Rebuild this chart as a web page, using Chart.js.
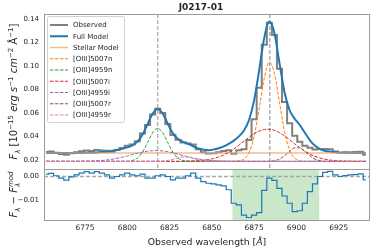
<!DOCTYPE html>
<html>
<head>
<meta charset="utf-8">
<script src="https://cdn.jsdelivr.net/npm/chart.js@4.4.1/dist/chart.umd.min.js"></script>
<style>
  html, body { margin: 0; padding: 0; background: #fff; }
  #wrap { position: relative; width: 374px; height: 251px; }
  #wrap canvas { position: absolute; left: 0; top: 0; }
</style>
</head>
<body>
<div id="wrap">
  <canvas id="top-panel" width="374" height="251"></canvas>
  <canvas id="bottom-panel" width="374" height="251"></canvas>
</div>
<script>
// wavelength grid of the spectrum (Angstrom)
const wave = [6752, 6755, 6758, 6761, 6764, 6767, 6770, 6773, 6776, 6779, 6782, 6785, 6788, 6791, 6794, 6797,
  6800, 6803, 6806, 6809, 6812, 6815, 6818, 6821, 6824, 6827, 6830, 6833, 6836, 6839, 6842, 6845,
  6848, 6851, 6854, 6857, 6860, 6863, 6866, 6869, 6872, 6875, 6878, 6881, 6884, 6887, 6890, 6893,
  6896, 6899, 6902, 6905, 6908, 6911, 6914, 6917, 6920, 6923, 6926, 6929, 6932, 6935, 6938, 6941];

const observed = [0.0267, 0.0270, 0.0260, 0.0250, 0.0242, 0.0255, 0.0264, 0.0272, 0.0279, 0.0274, 0.0282, 0.0279, 0.0276, 0.0268, 0.0283, 0.0300,
  0.0319, 0.0330, 0.0357, 0.0424, 0.0496, 0.0585, 0.0635, 0.0599, 0.0505, 0.0411, 0.0370, 0.0346, 0.0339, 0.0329, 0.0289, 0.0264,
  0.0253, 0.0256, 0.0263, 0.0275, 0.0281, 0.0252, 0.0281, 0.0289, 0.0369, 0.0546, 0.0815, 0.1181, 0.1369, 0.1264, 0.0975, 0.0693,
  0.0511, 0.0404, 0.0354, 0.0319, 0.0303, 0.0288, 0.0291, 0.0292, 0.0289, 0.0270, 0.0260, 0.0263, 0.0264, 0.0265, 0.0268, 0.0243];

const fullModel = [0.0257, 0.0257, 0.0257, 0.0257, 0.0257, 0.0257, 0.0257, 0.0258, 0.0259, 0.0260, 0.0262, 0.0265, 0.0269, 0.0275, 0.0283, 0.0293,
  0.0305, 0.0323, 0.0354, 0.0414, 0.0503, 0.0592, 0.0632, 0.0592, 0.0505, 0.0425, 0.0377, 0.0353, 0.0336, 0.0315, 0.0296, 0.0285,
  0.0281, 0.0287, 0.0298, 0.0314, 0.0336, 0.0363, 0.0399, 0.0449, 0.0539, 0.0706, 0.0965, 0.1239, 0.1376, 0.1280, 0.1024, 0.0774,
  0.0622, 0.0550, 0.0496, 0.0430, 0.0366, 0.0319, 0.0291, 0.0275, 0.0268, 0.0263, 0.0260, 0.0259, 0.0257, 0.0257, 0.0257, 0.0257];

const residual = [0.0010, 0.0013, 0.0003, -0.0007, -0.0015, -0.0002, 0.0007, 0.0014, 0.0020, 0.0014, 0.0020, 0.0014, 0.0007, -0.0007, 0.0000, 0.0007,
  0.0014, 0.0007, 0.0003, 0.0010, -0.0007, -0.0007, 0.0003, 0.0007, 0.0000, -0.0014, -0.0007, -0.0007, 0.0003, 0.0014, -0.0007, -0.0021,
  -0.0028, -0.0031, -0.0035, -0.0039, -0.0055, -0.0111, -0.0118, -0.0160, -0.0170, -0.0160, -0.0150, -0.0058, -0.0007, -0.0016, -0.0049, -0.0081,
  -0.0111, -0.0146, -0.0142, -0.0111, -0.0063, -0.0031, 0.0000, 0.0017, 0.0021, 0.0007, 0.0000, 0.0004, 0.0007, 0.0008, 0.0011, -0.0014];

// model components as [wavelength, flux] pairs
const stellar = [[6752, 0.0257], [6941, 0.0257]];
const oiii5007n = [[6752, 0.0186], [6863, 0.0186], [6866, 0.0190], [6869, 0.0206], [6872, 0.0262], [6875, 0.0399], [6878, 0.0635],
  [6881, 0.0896], [6884, 0.1030], [6887, 0.0938], [6890, 0.0689], [6893, 0.0439], [6896, 0.0281], [6899, 0.0213], [6902, 0.0192],
  [6905, 0.0187], [6941, 0.0186]];
const oiii4959n = [[6752, 0.0186], [6800, 0.0186], [6803, 0.0194], [6806, 0.0214], [6809, 0.0264], [6812, 0.0345], [6815, 0.0430],
  [6818, 0.0468], [6821, 0.0430], [6824, 0.0345], [6827, 0.0264], [6830, 0.0214], [6833, 0.0194], [6836, 0.0188], [6941, 0.0186]];
const oiii5007i = [[6752, 0.0186], [6833, 0.0186], [6836, 0.0187], [6839, 0.0189], [6842, 0.0191], [6845, 0.0195], [6848, 0.0201],
  [6851, 0.0210], [6854, 0.0223], [6857, 0.0241], [6860, 0.0264], [6863, 0.0292], [6866, 0.0324], [6869, 0.0358], [6872, 0.0392],
  [6875, 0.0422], [6878, 0.0445], [6881, 0.0458], [6884, 0.0460], [6887, 0.0451], [6890, 0.0431], [6893, 0.0403], [6896, 0.0370],
  [6899, 0.0336], [6902, 0.0303], [6905, 0.0273], [6908, 0.0248], [6911, 0.0229], [6914, 0.0214], [6917, 0.0204], [6920, 0.0197],
  [6923, 0.0192], [6926, 0.0189], [6929, 0.0188], [6935, 0.0186], [6941, 0.0186]];
const oiii4959i = [[6752, 0.0186], [6770, 0.0186], [6776, 0.0188], [6779, 0.0189], [6782, 0.0191], [6785, 0.0194], [6788, 0.0198],
  [6791, 0.0204], [6794, 0.0212], [6797, 0.0222], [6800, 0.0232], [6803, 0.0244], [6806, 0.0255], [6809, 0.0265], [6812, 0.0273],
  [6815, 0.0277], [6818, 0.0278], [6821, 0.0275], [6824, 0.0268], [6827, 0.0259], [6830, 0.0248], [6833, 0.0236], [6836, 0.0225],
  [6839, 0.0215], [6842, 0.0207], [6845, 0.0200], [6848, 0.0195], [6851, 0.0192], [6854, 0.0190], [6857, 0.0188], [6863, 0.0186],
  [6941, 0.0186]];
const oiii5007r = [[6752, 0.0186], [6884, 0.0186], [6887, 0.0192], [6890, 0.0205], [6893, 0.0233], [6896, 0.0272], [6899, 0.0302],
  [6902, 0.0302], [6905, 0.0272], [6908, 0.0233], [6911, 0.0205], [6914, 0.0192], [6917, 0.0186], [6941, 0.0186]];
const oiii4959r = [[6752, 0.0186], [6818, 0.0186], [6821, 0.0188], [6824, 0.0194], [6827, 0.0203], [6830, 0.0216], [6833, 0.0224],
  [6836, 0.0223], [6839, 0.0212], [6842, 0.0200], [6845, 0.0191], [6848, 0.0187], [6851, 0.0186], [6941, 0.0186]];

const lineCenters = [6818, 6884.3];     // dashed markers of [OIII]4959 and [OIII]5007
const shadedRange = [6862.2, 6913.5];   // green band in the residual panel
const xRange = [6750.8, 6943.5];
const topRange = [0.0121, 0.1443];
const bottomRange = [-0.01804, 0.0031];
const xTicks = [6775, 6800, 6825, 6850, 6875, 6900, 6925];
const topTicks = [0.02, 0.04, 0.06, 0.08, 0.10, 0.12, 0.14];
const bottomTicks = [-0.01, 0.00];

const FAMILY = "'DejaVu Sans'";
const TEXT = '#262626';

function onGrid(vals) { return wave.map((w, i) => ({ x: w, y: vals[i] })); }
function pts(pairs) { return pairs.map(p => ({ x: p[0], y: p[1] })); }
function fmtTick(v) { return v.toFixed(2).replace('-', '\u2212'); }

function comp(label, pairs, color, order) {
  return {
    label: label, data: pts(pairs), borderColor: color, borderWidth: 1,
    borderDash: [3.5, 1.5], cubicInterpolationMode: 'monotone', order: order
  };
}

// draws runs of text with different size/style along one baseline
function drawRich(ctx, parts, cx, cy, rotate) {
  ctx.save();
  ctx.translate(cx, cy);
  if (rotate) ctx.rotate(-Math.PI / 2);
  ctx.fillStyle = TEXT;
  ctx.textBaseline = 'alphabetic';
  ctx.textAlign = 'left';
  let total = 0;
  parts.forEach(p => {
    ctx.font = (p.it ? 'italic ' : '') + p.s + 'px ' + FAMILY;
    p.w = ctx.measureText(p.t).width;
    if (!p.stack) total += p.w;
  });
  let x = -total / 2;
  parts.forEach(p => {
    ctx.font = (p.it ? 'italic ' : '') + p.s + 'px ' + FAMILY;
    ctx.fillText(p.t, x, p.dy || 0);
    if (!p.stack) x += p.w;
  });
  ctx.restore();
}

function drawFrame(chart) {
  const { ctx, chartArea: a } = chart;
  ctx.save();
  ctx.strokeStyle = '#9a9a9a';
  ctx.lineWidth = 1;
  ctx.strokeRect(a.left + 0.5, a.top + 0.5, a.right - a.left - 1, a.bottom - a.top);
  ctx.restore();
}

const topPlugin = {
  id: 'topPanel',
  beforeDatasetsDraw(chart) {
    const { ctx, chartArea: a, scales: { x } } = chart;
    ctx.save();
    lineCenters.forEach((w, i) => {
      const px = x.getPixelForValue(w);
      ctx.strokeStyle = i === 0 ? '#b5b5b5' : '#8a8a8a';
      ctx.lineWidth = i === 0 ? 1.5 : 1;
      ctx.setLineDash([4, 2]);
      ctx.beginPath();
      ctx.moveTo(px, a.top);
      ctx.lineTo(px, a.bottom);
      ctx.stroke();
    });
    ctx.restore();
  },
  afterDraw(chart) {
    drawFrame(chart);
    const ctx = chart.ctx;
    // legend box
    ctx.save();
    ctx.fillStyle = 'rgba(255,255,255,0.85)';
    ctx.strokeStyle = '#d0d0d0';
    ctx.lineWidth = 1;
    ctx.beginPath();
    ctx.roundRect(47.5, 16.5, 77, 106, 2);
    ctx.fill();
    ctx.stroke();
    ctx.font = '7px ' + FAMILY;
    ctx.textBaseline = 'middle';
    ctx.fillStyle = TEXT;
    chart.data.datasets.forEach((ds, i) => {
      const y = 25 + i * 11.25;
      ctx.strokeStyle = ds.borderColor;
      ctx.lineWidth = ds.borderWidth;
      ctx.setLineDash(ds.borderDash || []);
      ctx.beginPath();
      ctx.moveTo(50, y);
      ctx.lineTo(68, y);
      ctx.stroke();
      ctx.fillText(ds.label, 73, y + 0.5);
    });
    ctx.restore();
  }
};

const bottomPlugin = {
  id: 'bottomPanel',
  beforeDatasetsDraw(chart) {
    const { ctx, chartArea: a, scales: { x, y } } = chart;
    ctx.save();
    const x0 = x.getPixelForValue(shadedRange[0]);
    const x1 = x.getPixelForValue(shadedRange[1]);
    ctx.fillStyle = 'rgba(44,160,44,0.25)';
    ctx.fillRect(x0, a.top, x1 - x0, a.bottom - a.top);
    const y0 = y.getPixelForValue(0);
    ctx.strokeStyle = '#a8a8a8';
    ctx.lineWidth = 1.5;
    ctx.setLineDash([4, 2]);
    ctx.beginPath();
    ctx.moveTo(a.left, y0);
    ctx.lineTo(a.right, y0);
    ctx.stroke();
    ctx.restore();
  },
  afterDraw(chart) {
    drawFrame(chart);
    const ctx = chart.ctx;
    ctx.save();
    ctx.fillStyle = TEXT;
    ctx.font = 'bold 9px ' + FAMILY;
    ctx.textAlign = 'center';
    ctx.textBaseline = 'middle';
    ctx.fillText('J0217-01', 201, 8);
    ctx.restore();

    drawRich(ctx, [
      { t: 'Observed wavelength [', s: 9.3 },
      { t: '\u00c5', s: 9.3, it: true },
      { t: ']', s: 9.3 }
    ], 207, 244.5, false);

    drawRich(ctx, [
      { t: 'F', s: 10, it: true },
      { t: '\u03bb', s: 7, it: true, dy: 2.5 },
      { t: ' [10', s: 10 },
      { t: '\u221215', s: 7, dy: -4 },
      { t: ' erg', s: 10, it: true },
      { t: ' s', s: 10, it: true },
      { t: '\u22121', s: 7, dy: -4 },
      { t: ' cm', s: 10, it: true },
      { t: '\u22122', s: 7, dy: -4 },
      { t: ' \u00c5', s: 10 },
      { t: '\u22121', s: 7, dy: -4 },
      { t: ']', s: 10 }
    ], 17, 91.5, true);

    drawRich(ctx, [
      { t: 'F', s: 10, it: true },
      { t: '\u03bb', s: 7, it: true, dy: 2.5 },
      { t: ' \u2212 ', s: 10 },
      { t: 'F', s: 10, it: true },
      { t: '\u03bb', s: 7, it: true, dy: 2.5, stack: true },
      { t: 'mod', s: 7, it: true, dy: -4 }
    ], 17, 194.5, true);
  }
};

const common = {
  responsive: false,
  animation: false,
  devicePixelRatio: 1,
  events: [],
  elements: { point: { radius: 0 } },
  plugins: { legend: { display: false }, tooltip: { enabled: false } }
};

new Chart(document.getElementById('top-panel'), {
  type: 'line',
  data: {
    datasets: [
      { label: 'Observed', data: onGrid(observed), borderColor: '#808080', borderWidth: 2, stepped: 'middle', order: 20 },
      { label: 'Full Model', data: onGrid(fullModel), borderColor: '#1f77b4', borderWidth: 2, cubicInterpolationMode: 'monotone', order: 19 },
      { label: 'Stellar Model', data: pts(stellar), borderColor: 'rgba(236,168,105,0.75)', borderWidth: 1.5, order: 18 },
      comp('[OIII]5007n', oiii5007n, '#ff7f0e', 17),
      comp('[OIII]4959n', oiii4959n, '#2ca02c', 16),
      comp('[OIII]5007i', oiii5007i, '#d62728', 15),
      comp('[OIII]4959i', oiii4959i, '#9467bd', 14),
      comp('[OIII]5007r', oiii5007r, '#8c564b', 13),
      comp('[OIII]4959r', oiii4959r, '#e377c2', 12)
    ]
  },
  options: Object.assign({}, common, {
    layout: { padding: { left: 0, right: 4, top: 14, bottom: 82 } },
    scales: {
      x: { type: 'linear', min: xRange[0], max: xRange[1], display: false },
      y: {
        min: topRange[0], max: topRange[1],
        afterFit: s => { s.width = 44; },
        afterBuildTicks: s => { s.ticks = topTicks.map(v => ({ value: v })); },
        grid: { display: false, drawTicks: false },
        border: { display: false },
        ticks: { padding: 5, color: TEXT, font: { family: FAMILY, size: 7 }, callback: v => fmtTick(v) }
      }
    }
  }),
  plugins: [topPlugin]
});

new Chart(document.getElementById('bottom-panel'), {
  type: 'line',
  data: {
    datasets: [
      { label: 'Residual', data: onGrid(residual), borderColor: '#1f77b4', borderWidth: 1.2, stepped: 'middle' }
    ]
  },
  options: Object.assign({}, common, {
    layout: { padding: { left: 0, right: 4, top: 169, bottom: 0 } },
    scales: {
      x: {
        type: 'linear', min: xRange[0], max: xRange[1],
        afterFit: s => { s.height = 31; },
        afterBuildTicks: s => { s.ticks = xTicks.map(v => ({ value: v })); },
        grid: { display: false, drawTicks: false },
        border: { display: false },
        ticks: { padding: 4, maxRotation: 0, color: TEXT, font: { family: FAMILY, size: 7.5 }, callback: v => String(v) }
      },
      y: {
        min: bottomRange[0], max: bottomRange[1],
        afterFit: s => { s.width = 44; },
        afterBuildTicks: s => { s.ticks = bottomTicks.map(v => ({ value: v })); },
        grid: { display: false, drawTicks: false },
        border: { display: false },
        ticks: { padding: 5, color: TEXT, font: { family: FAMILY, size: 7 }, callback: v => fmtTick(v) }
      }
    }
  }),
  plugins: [bottomPlugin]
});
</script>
</body>
</html>
